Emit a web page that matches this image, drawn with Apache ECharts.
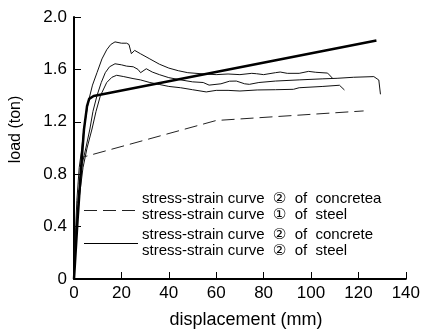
<!DOCTYPE html>
<html>
<head>
<meta charset="utf-8">
<script src="https://cdn.jsdelivr.net/npm/echarts@6/dist/echarts.min.js"></script>
<style>
html,body{margin:0;padding:0;background:#fff;}
#chart{width:423px;height:334px;}
</style>
</head>
<body>
<div id="chart"></div>
<script>
// axis ticks
var xTicks = [0, 20, 40, 60, 80, 100, 120, 140];
var yTicks = [0, 0.4, 0.8, 1.2, 1.6, 2.0];

// legend text lines
var legendDashed = ['stress-strain curve  \u2461  of  concretea', 'stress-strain curve  \u2460  of  steel'];
var legendSolid = ['stress-strain curve  \u2461  of  concrete', 'stress-strain curve  \u2461  of  steel'];

// dashed model curve: [displacement, load]
var dashedCurve = [[0,0],[1,0.40],[2,0.70],[3.7,0.93],[60,1.21],[122.2,1.283]];

// thick model curve
var thickCurve = [[0,0],[1.5,0.45],[3,0.85],[4.2,1.14],[5.5,1.32],[6.4,1.375],[8.3,1.397],[127.6,1.82]];

// test curve 1 (highest peak)
var test1 = [[0,0],[0.5,0.30],[1.2,0.60],[2.2,0.85],[3.3,1.00],[4.2,1.15],[6,1.35],[7.8,1.48],[9.7,1.575],[11.8,1.68],[13.8,1.75],[15.5,1.79],[17.3,1.81],[20,1.80],[22.2,1.80],[23.2,1.79],[24.2,1.72],[25.6,1.745],[28,1.72],[32,1.68],[36,1.64],[40,1.61],[44,1.59],[48,1.575],[55,1.565],[60,1.56],[65,1.565],[70,1.56],[75,1.57],[77,1.567],[80,1.56],[85,1.575],[87,1.58],[90,1.57],[95,1.57],[99,1.585],[102,1.578],[107,1.572],[109.2,1.53]];

// test curve 2 (middle)
var test2 = [[0,0],[1,0.40],[2,0.65],[3.5,0.88],[5,1.00],[6.7,1.145],[8,1.28],[9.7,1.40],[11.5,1.50],[13.2,1.575],[15,1.62],[17.3,1.643],[20,1.635],[22.2,1.625],[25,1.62],[27,1.60],[28.1,1.575],[30.5,1.605],[33,1.58],[36,1.56],[40,1.537],[45,1.52],[50,1.505],[54.5,1.50],[57,1.48],[62,1.49],[65.6,1.51],[68.5,1.511],[72,1.49],[74,1.486],[78,1.50],[85,1.511],[95,1.52],[105,1.528],[111,1.532],[118,1.54],[126.5,1.545],[128.6,1.519],[129.3,1.41]];

// test curve 3 (lowest)
var test3 = [[0,0],[1,0.35],[2.2,0.62],[3.8,0.85],[5.5,1.00],[7.6,1.145],[9.3,1.28],[11.1,1.397],[13.8,1.50],[16,1.54],[18,1.555],[21,1.545],[24.9,1.53],[28,1.52],[32,1.50],[36,1.485],[40,1.47],[45,1.46],[50,1.445],[55.8,1.428],[60,1.44],[65,1.44],[70,1.435],[77.3,1.443],[85,1.445],[92.6,1.448],[95,1.46],[100,1.465],[105,1.47],[112,1.479],[114.1,1.443]];

var FONT = '"Liberation Sans", Arial, "DejaVu Sans", sans-serif';
var chart = echarts.init(document.getElementById('chart'), null, {renderer: 'canvas'});

function thin(name, data) {
  return {
    name: name, type: 'line', data: data, symbol: 'none', silent: true,
    lineStyle: {color: '#111', width: 1}, z: 2
  };
}

function legendText(str, y) {
  return {
    type: 'text', left: 142, top: y, silent: true,
    style: {text: str, fontFamily: FONT, fontSize: 15, fill: '#000'}
  };
}

var option = {
  animation: false,
  backgroundColor: '#fff',
  grid: {left: 74, right: 12, top: 17, bottom: 53, containLabel: false},
  graphic: [
    {type: 'line', silent: true, shape: {x1: 84, y1: 210.5, x2: 138, y2: 210.5},
     style: {stroke: '#222', lineWidth: 1, lineDash: [13, 6]}},
    {type: 'line', silent: true, shape: {x1: 84, y1: 243.5, x2: 138, y2: 243.5},
     style: {stroke: '#000', lineWidth: 1}},
    legendText(legendDashed[0], 191),
    legendText(legendDashed[1], 207),
    legendText(legendSolid[0], 227),
    legendText(legendSolid[1], 243)
  ],
  xAxis: {
    type: 'value', min: xTicks[0], max: xTicks[xTicks.length - 1], interval: 20,
    name: 'displacement (mm)', nameLocation: 'middle', nameGap: 32,
    nameTextStyle: {fontFamily: FONT, fontSize: 18, color: '#000', padding: [0, 0, 0, 12]},
    axisLine: {lineStyle: {color: '#000', width: 2}},
    axisTick: {inside: true, length: 7, lineStyle: {color: '#000', width: 1}},
    axisLabel: {fontFamily: FONT, fontSize: 17, color: '#000', margin: 6},
    splitLine: {show: false}
  },
  yAxis: {
    type: 'value', min: yTicks[0], max: yTicks[yTicks.length - 1], interval: 0.4,
    name: 'load (ton)', nameLocation: 'middle', nameGap: 50,
    nameTextStyle: {fontFamily: FONT, fontSize: 16, color: '#000', padding: [0, 0, 0, 37]},
    axisLine: {show: true, lineStyle: {color: '#000', width: 2}},
    axisTick: {show: true, inside: true, length: 7, lineStyle: {color: '#000', width: 1}},
    axisLabel: {
      fontFamily: FONT, fontSize: 17, color: '#000', margin: 7,
      formatter: function (v) { return Math.abs(v) < 1e-9 ? '0' : v.toFixed(1); }
    },
    splitLine: {show: false}
  },
  series: [
    thin('test 1', test1),
    thin('test 2', test2),
    thin('test 3', test3),
    {
      name: 'model a', type: 'line', data: dashedCurve, symbol: 'none', silent: true,
      lineStyle: {color: '#222', width: 1, type: [13, 6]}, z: 3
    },
    {
      name: 'model b', type: 'line', data: thickCurve, symbol: 'none', silent: true,
      lineStyle: {color: '#000', width: 2.5}, z: 4
    }
  ]
};
chart.setOption(option);
</script>
</body>
</html>
